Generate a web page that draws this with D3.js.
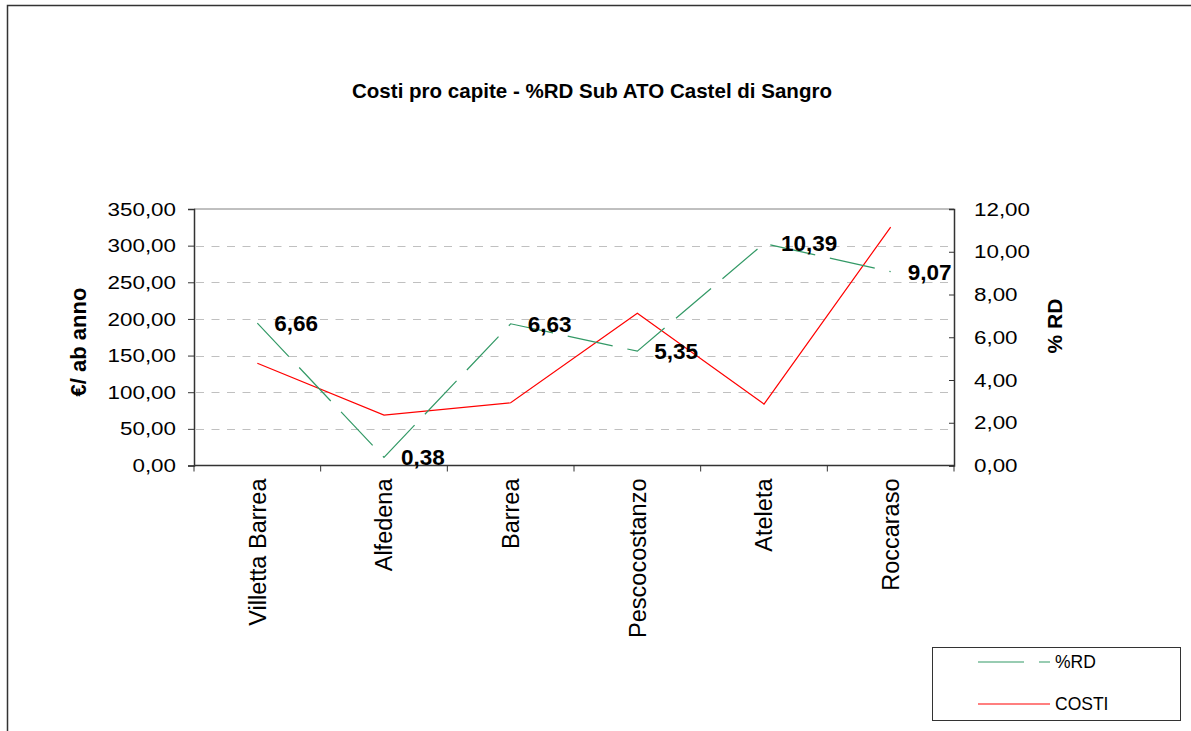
<!DOCTYPE html>
<html>
<head>
<meta charset="utf-8">
<script src="https://cdnjs.cloudflare.com/ajax/libs/d3/7.8.5/d3.min.js"></script>
<style>
  body { margin: 0; background: #fff; }
  text { font-family: Arial, "Liberation Sans", sans-serif; }
</style>
</head>
<body>
<svg id="chart" width="1191" height="731"></svg>
<script>
// data
var comuni = ["Villetta Barrea", "Alfedena", "Barrea", "Pescocostanzo", "Ateleta", "Roccaraso"];
var costi = [139.5, 68.8, 85.6, 207.8, 83.8, 325.4];      // €/ab anno (left axis)
var rd = [6.66, 0.38, 6.63, 5.35, 10.39, 9.07];            // % RD (right axis)
var leftTicks = [0, 50, 100, 150, 200, 250, 300, 350];
var rightTicks = [0, 2, 4, 6, 8, 10, 12];

var svg = d3.select("#chart");
var fmt = function(v) { return v.toFixed(2).replace(".", ","); };

// plot area (note: "top" is a reserved window prop, so use plot*)
var plotL = 194, plotR = 954, plotT = 209, plotB = 465.5;

var x = d3.scaleBand().domain(comuni).range([plotL, plotR]).padding(0);
var yL = d3.scaleLinear().domain([0, 350]).range([plotB, plotT]);
var yR = d3.scaleLinear().domain([0, 12]).range([plotB, plotT]);
var cx = function(d) { return x(d) + x.bandwidth() / 2; };

// outer frame
svg.append("rect")
    .attr("x", 7.5).attr("y", 5.5)
    .attr("width", 1300).attr("height", 900)
    .attr("fill", "none").attr("stroke", "#333").attr("stroke-width", 1.5);

// title
svg.append("text")
    .attr("x", 592).attr("y", 98)
    .attr("text-anchor", "middle")
    .attr("font-size", 21).attr("font-weight", "bold")
    .attr("textLength", 480).attr("lengthAdjust", "spacingAndGlyphs")
    .text("Costi pro capite - %RD Sub ATO Castel di Sangro");

// gridlines
svg.append("g").selectAll("line")
    .data(leftTicks.filter(function(t) { return t > 0 && t < 350; }))
    .enter().append("line")
    .attr("x1", plotL + 2).attr("x2", plotR)
    .attr("y1", function(d) { return Math.round(yL(d)) + 0.5; })
    .attr("y2", function(d) { return Math.round(yL(d)) + 0.5; })
    .attr("stroke", "#c0c0c0").attr("stroke-dasharray", "8,7.5");

// plot top border
svg.append("line")
    .attr("x1", plotL).attr("x2", plotR)
    .attr("y1", plotT).attr("y2", plotT)
    .attr("stroke", "#808080");

// left axis
var axL = svg.append("g")
    .attr("transform", "translate(" + plotL + ",0)")
    .call(d3.axisLeft(yL).tickValues(leftTicks).tickSize(6).tickPadding(0).tickFormat(fmt));
axL.select(".domain").attr("stroke", "#333").attr("stroke-width", 1.5);
axL.selectAll(".tick line").attr("stroke", "#333");
axL.selectAll(".tick text")
    .attr("font-size", 17.5).attr("font-family", "Arial, 'Liberation Sans', sans-serif")
    .attr("fill", "#000")
    .attr("x", 0).attr("dy", "0.35em")
    .attr("transform", "translate(-18,0) scale(1.28,1)");

// right axis, ticks pointing inwards
var axR = svg.append("g")
    .attr("transform", "translate(" + plotR + ",0)")
    .call(d3.axisRight(yR).tickValues(rightTicks).tickSize(-5).tickPadding(0).tickFormat(fmt));
axR.select(".domain").attr("stroke", "#333").attr("stroke-width", 1.5);
axR.selectAll(".tick line").attr("stroke", "#333");
axR.selectAll(".tick text")
    .attr("font-size", 17.5).attr("font-family", "Arial, 'Liberation Sans', sans-serif")
    .attr("fill", "#000")
    .attr("x", 0).attr("dy", "0.35em")
    .attr("transform", "translate(20,0) scale(1.28,1)");

// x axis
var ticksX = d3.range(comuni.length + 1).map(function(i) { return plotL + i * x.bandwidth(); });
svg.append("line")
    .attr("x1", plotL).attr("x2", plotR)
    .attr("y1", plotB).attr("y2", plotB)
    .attr("stroke", "#333").attr("stroke-width", 1.5);
svg.append("g").selectAll("line")
    .data(ticksX).enter().append("line")
    .attr("x1", function(d) { return d; }).attr("x2", function(d) { return d; })
    .attr("y1", plotB).attr("y2", plotB + 6)
    .attr("stroke", "#333");
svg.append("g").selectAll("text")
    .data(comuni).enter().append("text")
    .attr("transform", function(d) { return "translate(" + cx(d) + "," + (plotB + 13) + ") rotate(-90)"; })
    .attr("text-anchor", "end")
    .attr("dy", "0.36em")
    .attr("font-size", 23.5)
    .text(function(d) { return d; });

// axis titles
svg.append("text")
    .attr("transform", "translate(86,342) rotate(-90)")
    .attr("text-anchor", "middle")
    .attr("font-size", 22).attr("font-weight", "bold")
    .text("€/ ab anno");
svg.append("text")
    .attr("transform", "translate(1062,326) rotate(-90)")
    .attr("text-anchor", "middle")
    .attr("font-size", 21).attr("font-weight", "bold")
    .text("% RD");

// lines
var lineCosti = d3.line()
    .x(function(d, i) { return cx(comuni[i]); })
    .y(function(d) { return yL(d); });
var lineRd = d3.line()
    .x(function(d, i) { return cx(comuni[i]); })
    .y(function(d) { return yR(d); });

svg.append("path").datum(costi)
    .attr("d", lineCosti)
    .attr("fill", "none").attr("stroke", "#ff0000").attr("stroke-width", 1.2);

svg.append("path").datum(rd)
    .attr("d", lineRd)
    .attr("fill", "none").attr("stroke", "#339966").attr("stroke-width", 1.2)
    .attr("stroke-dasharray", "46,15");

// data labels for %RD
svg.append("g").selectAll("text")
    .data(rd).enter().append("text")
    .attr("x", function(d, i) { return cx(comuni[i]) + 17; })
    .attr("y", function(d) { return yR(d) + 8; })
    .attr("font-size", 22.5).attr("font-weight", "bold")
    .text(fmt);

// legend
var lg = svg.append("g");
lg.append("rect")
    .attr("x", 932.5).attr("y", 647.5).attr("width", 248).attr("height", 73)
    .attr("fill", "#fff").attr("stroke", "#333");
lg.append("line")
    .attr("x1", 978).attr("x2", 1050).attr("y1", 662).attr("y2", 662)
    .attr("stroke", "#339966").attr("stroke-width", 1.2).attr("stroke-dasharray", "46,15");
lg.append("text").attr("x", 1055).attr("y", 668).attr("font-size", 17.5).text("%RD");
lg.append("line")
    .attr("x1", 978).attr("x2", 1050).attr("y1", 704).attr("y2", 704)
    .attr("stroke", "#ff0000").attr("stroke-width", 1.2);
lg.append("text").attr("x", 1055).attr("y", 710).attr("font-size", 17.5).text("COSTI");
</script>
</body>
</html>
